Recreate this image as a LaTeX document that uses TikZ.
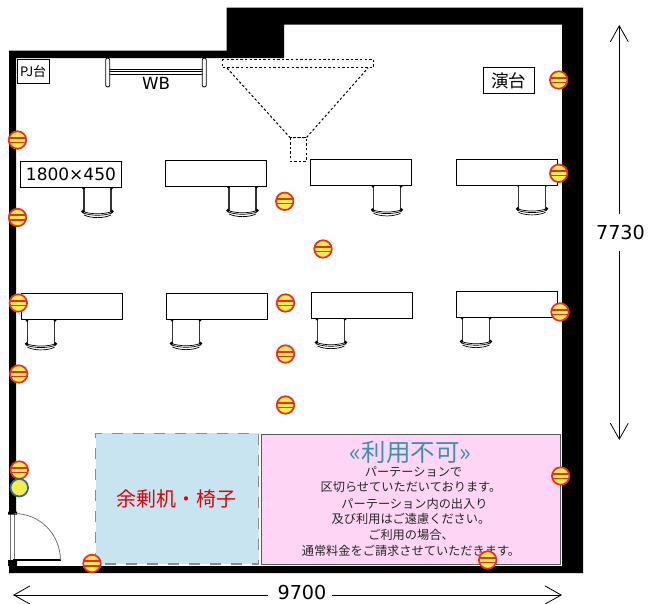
\documentclass[tikz,border=0pt]{standalone}
\usepackage{fontspec}
\setmainfont{DejaVu Sans}
\newfontfamily\jpfont{Noto Sans CJK JP}
\usetikzlibrary{arrows.meta}
\definecolor{wallgray}{HTML}{8C8C8C}
\definecolor{zoneblue}{HTML}{C9E4F1}
\definecolor{zonepink}{HTML}{FFD5F6}
\definecolor{teal1}{HTML}{3F90AB}
\definecolor{outred}{HTML}{EE2A24}
\definecolor{outyel}{HTML}{F5EC4E}
\definecolor{outblue}{HTML}{2F62B0}
\newcommand{\fsz}[1]{\fontsize{#1}{#1}\selectfont}
\tikzset{
  x=1pt,y=-1pt,
  outlet/.style={circle,draw=outred,line width=1.7pt,fill=outyel,minimum size=17.5pt,inner sep=0pt,
    path picture={\draw[outred,line width=1.6pt]
      ([yshift=2.3pt]path picture bounding box.west) -- ([yshift=2.3pt]path picture bounding box.east)
      ([yshift=-2.3pt]path picture bounding box.west) -- ([yshift=-2.3pt]path picture bounding box.east);}},
  outletblue/.style={circle,draw=outblue,line width=1.7pt,fill=outyel,minimum size=17.5pt,inner sep=0pt},
  desk/.style={draw=black,line width=0.9pt,fill=white,anchor=north west,minimum width=101pt,minimum height=26pt,inner sep=0pt},
  labelbox/.style={draw=black,line width=0.9pt,fill=white,inner sep=0pt},
  dashline/.style={draw=black,line width=1pt,dash pattern=on 2.4pt off 2.2pt},
  dim/.style={draw=black,line width=0.8pt,-{Straight Barb[length=16pt,width=18pt,line width=0.8pt]}},
  dimtext/.style={font=\fsz{19.2},inner sep=0pt,text=black},
  pinktext/.style={font=\jpfont\fsz{12.2},text=black!85,inner sep=0pt},
  pics/chair/.style={code={
    \draw[black!80,line width=1.4pt] (-13.5,0) -- (-13.5,25) (13.5,0) -- (13.5,25);
    \draw[black,line width=0.7pt,fill=white] (-14.5,24.5) .. controls (-6,27.5) and (6,27.5) .. (14.5,24.5);
    \draw[black,line width=0.7pt] (-14.5,26) .. controls (-6,29) and (6,29) .. (14.5,26)
      (-13.5,28) .. controls (-6,31.5) and (6,31.5) .. (13.5,28);
    \fill[black] (-14.5,24.5) circle (1.8) (14.5,24.5) circle (1.8) (-14,1) circle (1.5) (14,1) circle (1.5);
  }}
}
\begin{document}
\begin{tikzpicture}
\useasboundingbox (0,0) rectangle (648,603);
\fill[white] (0,0) rectangle (648,603);
% walls
\fill[black,even odd rule]
  (9,50.7) -- (226.7,50.7) -- (226.7,7.5) -- (583,7.5) -- (583,573) -- (9,573) -- cycle
  (16,58) -- (284,58) -- (284,24.5) -- (562,24.5) -- (562,566) -- (16,566) -- cycle;
% door
\fill[white] (8,513) rectangle (17,561);
\draw[black!55,line width=0.8pt,fill=white] (10.8,513) rectangle (14,561);
\fill[black] (8,511.5) rectangle (17,514.5) (8,560) rectangle (17,566);
\draw[black,line width=2pt] (13,560) -- (61,560);
\draw[black!60,line width=0.7pt] (14,513.5) .. controls (40,513.5) and (60,534) .. (60.5,560);
% top fixtures
\node[labelbox,minimum width=31.5pt,minimum height=23.5pt,font=\jpfont\fsz{13}] (pj) at (33.2,71.2) {PJ台};
\node[labelbox,minimum width=51pt,minimum height=25.5pt,font=\jpfont\fsz{17.5}] (lect) at (508.8,80.4) {演台};
\draw[black,line width=0.8pt] (107,69.5) -- (205,69.5) (107,71.8) -- (205,71.8) (107,74) -- (205,74);
\draw[black,line width=0.8pt,fill=white,rounded corners=2pt] (105.7,58) rectangle (109.7,87);
\draw[black,line width=0.8pt,fill=white,rounded corners=2pt] (202.3,58) rectangle (206.3,87);
\node[font=\fsz{16.7},inner sep=0pt] (wb) at (156,83) {WB};
% projector
\draw[dashline] (222,59.3) -- (373.5,59.3) -- (373.5,67.5) -- (222,67.5) -- cycle;
\draw[dashline] (227,68) -- (290,137.5) -- (306.5,137.5) -- (368,68);
\draw[dashline] (290,137.5) rectangle (306.5,161);
% chairs
\foreach \cx/\cy in {97.5/187,242.5/186,387/185.3,532/184.3,41/319.3,186/319,331/318,476/317}
  \pic at (\cx,\cy) {chair};
% desks
\node[desk,font=\fsz{17}] (d1) at (20,161) {1800×450};
\node[desk] (d2) at (165.3,160.3) {};
\node[desk] (d3) at (310,159.3) {};
\node[desk] (d4) at (455.5,158.5) {};
\node[desk] (d5) at (20.7,293.3) {};
\node[desk] (d6) at (166,293) {};
\node[desk] (d7) at (311,292) {};
\node[desk] (d8) at (456,291) {};
% zones
\fill[zoneblue] (95.7,433.3) rectangle (258.7,564);
\draw[wallgray,line width=1.1pt,dash pattern=on 11pt off 10pt] (95.7,564) -- (95.7,433.3) -- (258.7,433.3) -- (258.7,564) -- cycle;
\node[font=\jpfont\fsz{20},text=red!90!black,inner sep=0pt] (spare) at (176.5,498.5) {余剰机・椅子};
\draw[black!65,line width=1pt,fill=zonepink] (261,434.2) rectangle (560.7,564);
\node[font=\jpfont\fsz{24.5},text=teal1,inner sep=0pt] (ng) at (410.5,452) {«利用不可»};
\node[pinktext] (t1) at (413.5,471.7) {パーテーションで};
\node[pinktext] (t2) at (411,487.5) {区切らせていただいております。};
\node[pinktext] (t3) at (414.5,503.5) {パーテーション内の出入り};
\node[pinktext] (t4) at (411,519) {及び利用はご遠慮ください。};
\node[pinktext] (t5) at (411,535) {ご利用の場合、};
\node[pinktext] (t6) at (411,551) {通常料金をご請求させていただきます。};
% outlets
\foreach \n/\ox/\oy in {a/17.5/140,b/17.5/217.5,c/18.3/303,e/18.7/374,f/19.3/470,g/92/563.5,h/284.7/201.3,i/323/249,j/285.5/303,k/285.5/354,l/285.5/405,m/558.7/80,n/558.7/173.3,o/560/312,p/560.7/476,q/487.7/560}
  \node[outlet] (o\n) at (\ox,\oy) {};
\node[outletblue] (oblue) at (19.3,487.7) {};
% dimensions
\coordinate (dimT) at (619.3,25);
\coordinate (dimB) at (619.3,440);
\coordinate (dimL) at (13,595);
\coordinate (dimR) at (562,595);
\node[dimtext] (dimV) at (620.5,232.5) {7730};
\node[dimtext] (dimH) at (302,592.8) {9700};
\draw[dim] (dimV.north -| dimT) ++(0,-11) -- (dimT);
\draw[dim] (dimV.south -| dimB) ++(0,11) -- (dimB);
\draw[dim] (dimH.west |- dimL) ++(-9,0) -- (dimL);
\draw[dim] (dimH.east |- dimR) ++(5,0) -- (dimR);
\end{tikzpicture}
\end{document}
